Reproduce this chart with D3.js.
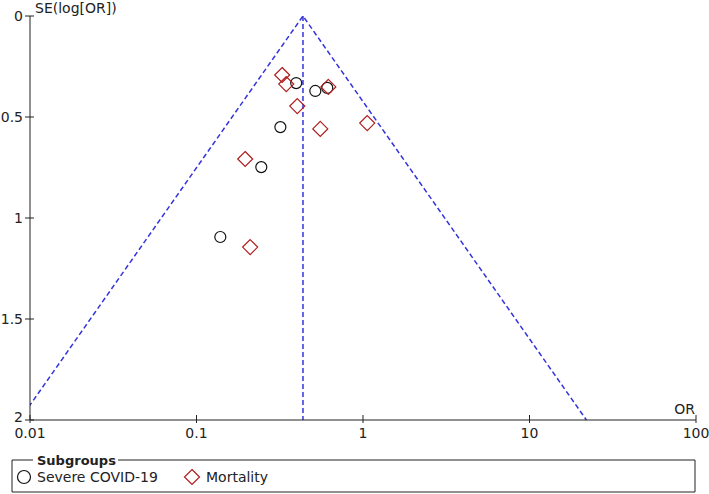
<!DOCTYPE html>
<html><head><meta charset="utf-8">
<script src="https://cdn.jsdelivr.net/npm/d3@7/dist/d3.min.js"></script>
<style>body{margin:0;background:#fff}svg text{font-family:"DejaVu Sans",Verdana,sans-serif}</style>
</head><body><svg id="c" width="709" height="494"></svg>
<script>
const severeOR = [0.397, 0.517, 0.610, 0.319, 0.245, 0.139];
const severeSE = [0.332, 0.371, 0.356, 0.550, 0.748, 1.094];
const mortOR = [0.327, 0.346, 0.619, 0.403, 0.554, 1.06, 0.196, 0.210];
const mortSE = [0.292, 0.337, 0.351, 0.446, 0.559, 0.530, 0.708, 1.144];
const pooledOR = 0.436;
const xTicks = [0.01, 0.1, 1, 10, 100];
const xTickLabels = ["0.01", "0.1", "1", "10", "100"];
const yTicks = [0, 0.5, 1, 1.5, 2];
const yTickLabels = ["0", "0.5", "1", "1.5", "2"];
const legendLabels = ["Severe COVID-19", "Mortality"];

const svg = d3.select("#c");
const x = d3.scaleLog().domain([0.01, 100]).range([30, 696]);
const y = d3.scaleLinear().domain([0, 2]).range([16, 420]);
const axisColor = "#222";
const fs = 14;

svg.append("defs").append("clipPath").attr("id", "pa")
  .append("rect").attr("x", 30).attr("y", 0).attr("width", 666).attr("height", 421);

const lp = Math.log(pooledOR);
const seMax = 2;
const fun = svg.append("g").attr("clip-path", "url(#pa)")
  .attr("stroke", "#3333dd").attr("stroke-width", 1.5).attr("stroke-dasharray", "5,3").attr("fill", "none");
const line = d3.line().x(d => x(d[0])).y(d => y(d[1]));
fun.append("path").attr("d", line([[Math.exp(lp - 1.96 * seMax), seMax], [pooledOR, 0], [Math.exp(lp + 1.96 * seMax), seMax]]));
fun.append("path").attr("d", line([[pooledOR, 0], [pooledOR, seMax]]));

const ax = svg.append("g").attr("stroke", axisColor).attr("stroke-width", 1);
ax.append("line").attr("x1", x(0.01)).attr("x2", x(100)).attr("y1", y(2)).attr("y2", y(2));
ax.append("line").attr("x1", x(0.01)).attr("x2", x(0.01)).attr("y1", y(0)).attr("y2", y(2));
xTicks.forEach(t => ax.append("line").attr("x1", x(t)).attr("x2", x(t)).attr("y1", y(2) - 5).attr("y2", y(2) + 3));
yTicks.forEach(t => ax.append("line").attr("y1", y(t)).attr("y2", y(t)).attr("x1", x(0.01) - 5).attr("x2", x(0.01) + 4));

const tx = svg.append("g").attr("font-size", fs).attr("fill", "#222");
xTicks.forEach((t, i) => tx.append("text").attr("x", x(t)).attr("y", y(2) + 18).attr("text-anchor", "middle").text(xTickLabels[i]));
yTicks.forEach((t, i) => tx.append("text").attr("x", x(0.01) - 7).attr("y", y(t) + (t === 2 ? 2 : 5)).attr("text-anchor", "end").text(yTickLabels[i]));
tx.append("text").attr("x", 35).attr("y", 13).text("SE(log[OR])");
tx.append("text").attr("x", 695).attr("y", 414).attr("text-anchor", "end").text("OR");

const circ = severeOR.map((o, i) => [o, severeSE[i]]);
const diam = mortOR.map((o, i) => [o, mortSE[i]]);
const diamond = (cx, cy, r) => `M${cx},${cy - r}L${cx + r},${cy}L${cx},${cy + r}L${cx - r},${cy}Z`;
svg.append("g").selectAll("circle").data(circ).join("circle")
  .attr("cx", d => x(d[0])).attr("cy", d => y(d[1])).attr("r", 5.5)
  .attr("fill", "none").attr("stroke", "#111").attr("stroke-width", 1.2);
svg.append("g").selectAll("path").data(diam).join("path")
  .attr("d", d => diamond(x(d[0]), y(d[1]), 7.5))
  .attr("fill", "none").attr("stroke", "#b11b1b").attr("stroke-width", 1.2);

const lg = svg.append("g");
const bx0 = 12, bx1 = 695, by0 = 460, by1 = 492;
lg.append("path").attr("d", `M33,${by0}H${bx0}V${by1}H${bx1}V${by0}H118`)
  .attr("fill", "none").attr("stroke", axisColor).attr("stroke-width", 1);
lg.append("text").attr("x", 37).attr("y", by0 + 5).attr("font-size", 13).attr("font-weight", "bold").attr("fill", "#222").text("Subgroups");
lg.append("circle").attr("cx", 24).attr("cy", 477).attr("r", 6.5).attr("fill", "none").attr("stroke", "#111").attr("stroke-width", 1.2);
lg.append("text").attr("x", 37).attr("y", 482).attr("font-size", fs).attr("fill", "#222").text(legendLabels[0]);
lg.append("path").attr("d", diamond(192, 477, 7.5)).attr("fill", "none").attr("stroke", "#b11b1b").attr("stroke-width", 1.2);
lg.append("text").attr("x", 206).attr("y", 482).attr("font-size", fs).attr("fill", "#222").text(legendLabels[1]);
</script></body></html>
